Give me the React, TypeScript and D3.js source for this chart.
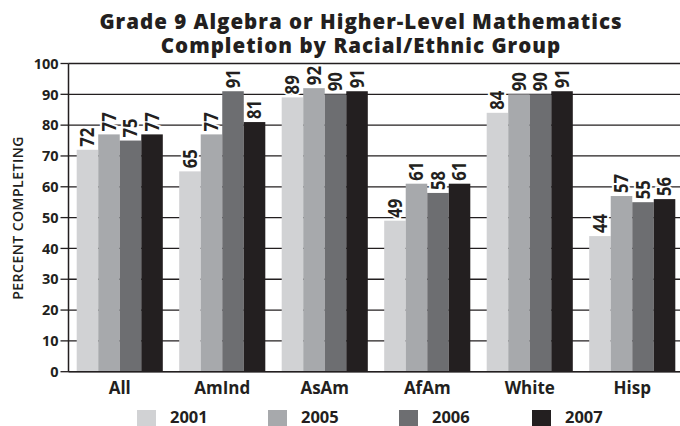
import React from "react";
import * as d3 from "d3";

const groups = ["All", "AmInd", "AsAm", "AfAm", "White", "Hisp"];
const years = ["2001", "2005", "2006", "2007"];
const values2001 = [72, 65, 89, 49, 84, 44];
const values2005 = [77, 77, 92, 61, 90, 57];
const values2006 = [75, 91, 90, 58, 90, 55];
const values2007 = [77, 81, 91, 61, 91, 56];
const yTicks = [0, 10, 20, 30, 40, 50, 60, 70, 80, 90, 100];
const titleLines = [
  "Grade 9 Algebra or Higher-Level Mathematics",
  "Completion by Racial/Ethnic Group",
];
const yLabel = "PERCENT COMPLETING";

const seriesValues = [values2001, values2005, values2006, values2007];
const colors = ["#d1d2d4", "#a7a9ac", "#6d6e71", "#231f20"];

const W = 680;
const H = 426;
const FONT = "'Open Sans', Lato, sans-serif";
const INK = "#231f20";

export default function App() {
  const left = 68.5;
  const x0 = d3
    .scaleBand<string>()
    .domain(groups)
    .range([left, left + 615])
    .paddingInner(0.16)
    .paddingOuter(0.08);
  const x1 = d3
    .scaleBand<string>()
    .domain(years)
    .range([0, x0.bandwidth()]);
  const y = d3.scaleLinear().domain([0, 100]).range([371.7, 63.5]);

  const legendX = [137, 268, 399, 532];

  return (
    <svg
      width={W}
      height={H}
      style={{ display: "block", position: "absolute", left: 0, top: 0, background: "#fff" }}
      fontFamily={FONT}
    >
      <rect width={W} height={H} fill="#fff" />
      {titleLines.map((t, i) => (
        <text
          key={t}
          x={361}
          y={28.5 + i * 24}
          textAnchor="middle"
          fontSize={20.5}
          fontWeight={800}
          letterSpacing={1}
          fill={INK}
        >
          {t}
        </text>
      ))}

      {/* gridlines */}
      {yTicks.map((t) => (
        <line
          key={"g" + t}
          x1={left}
          x2={W}
          y1={y(t)}
          y2={y(t)}
          stroke={INK}
          strokeWidth={1.3}
        />
      ))}

      {/* bars */}
      {groups.map((g, gi) => (
        <g key={g} transform={`translate(${x0(g)},0)`}>
          {years.map((yr, si) => {
            const v = seriesValues[si][gi];
            return (
              <rect
                key={yr}
                x={x1(yr)}
                y={y(v)}
                width={x1.bandwidth()}
                height={y(0) - y(v)}
                fill={colors[si]}
              />
            );
          })}
        </g>
      ))}

      {/* value labels */}
      {groups.map((g, gi) =>
        years.map((yr, si) => {
          const v = seriesValues[si][gi];
          const cx = (x0(g) as number) + (x1(yr) as number) + x1.bandwidth() / 2;
          const ty = y(v) - 3;
          return (
            <text
              key={g + yr}
              transform={`translate(${cx},${ty}) rotate(-90) scale(0.88,1)`}
              dy="0.36em"
              fontSize={19}
              fontWeight={700}
              fill={INK}
              stroke="#fff"
              strokeWidth={4}
              paintOrder="stroke"
            >
              {v}
            </text>
          );
        })
      )}

      {/* y axis */}
      <line x1={left} x2={left} y1={y(100)} y2={y(0)} stroke={INK} strokeWidth={1.5} />
      {yTicks.map((t) => (
        <g key={"t" + t}>
          <line x1={left - 8} x2={left} y1={y(t)} y2={y(t)} stroke={INK} strokeWidth={1.3} />
          <text
            x={58.5}
            y={y(t)}
            dy="0.36em"
            textAnchor="end"
            fontSize={14.5}
            fontWeight={700}
            fill={INK}
          >
            {t}
          </text>
        </g>
      ))}
      <line x1={left} x2={W} y1={y(0)} y2={y(0)} stroke={INK} strokeWidth={1.5} />

      <text
        transform={`translate(23,218) rotate(-90)`}
        textAnchor="middle"
        fontSize={14}
        fontWeight={600}
        letterSpacing={0.5}
        fill={INK}
      >
        {yLabel}
      </text>

      {/* category labels */}
      {groups.map((g) => (
        <text
          key={"x" + g}
          x={(x0(g) as number) + x0.bandwidth() / 2}
          y={394.3}
          textAnchor="middle"
          fontSize={17}
          fontWeight={700}
          fill={INK}
        >
          {g}
        </text>
      ))}

      {/* legend */}
      {years.map((yr, i) => (
        <g key={"l" + yr}>
          <rect x={legendX[i]} y={410} width={19} height={17} fill={colors[i]} />
          <text
            x={legendX[i] + 33}
            y={422.5}
            fontSize={16.5}
            fontWeight={700}
            fill={INK}
          >
            {yr}
          </text>
        </g>
      ))}
    </svg>
  );
}
